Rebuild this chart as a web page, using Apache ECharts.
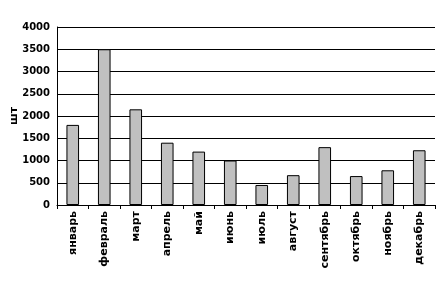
<!DOCTYPE html>
<html><head><meta charset="utf-8">
<script src="https://cdn.jsdelivr.net/npm/echarts@6/dist/echarts.min.js"></script>
<style>html,body{margin:0;padding:0;background:#fff}#c{width:440px;height:283px}</style>
</head><body><div id="c"></div>
<script>
const categories = ['январь','февраль','март','апрель','май','июнь','июль','август','сентябрь','октябрь','ноябрь','декабрь'];
const values = [1800, 3500, 2150, 1400, 1200, 1000, 450, 670, 1300, 650, 780, 1230];
const yTicks = [0, 500, 1000, 1500, 2000, 2500, 3000, 3500, 4000];
const chart = echarts.init(document.getElementById('c'), null, {renderer:'canvas'});
const font = 'DejaVu Sans, Verdana, sans-serif';
chart.setOption({
  animation: false,
  grid: {left: 57, right: 5, top: 27, bottom: 78, containLabel: false, outerBoundsMode: 'none'},
  xAxis: {
    type: 'category', data: categories,
    axisLine: {lineStyle: {color: '#000', width: 1}},
    axisTick: {show: true, length: 4, alignWithLabel: false, lineStyle: {color: '#000'}},
    axisLabel: {rotate: 90, color: '#000', fontFamily: font, fontWeight: 'bold', fontSize: 11, margin: 6, interval: 0}
  },
  yAxis: {
    type: 'value', min: yTicks[0], max: yTicks[yTicks.length-1], interval: 500,
    name: 'шт', nameLocation: 'middle', nameGap: 37, nameRotate: 90, nameMoveOverlap: false,
    nameTextStyle: {color: '#000', fontFamily: font, fontWeight: 'bold', fontSize: 11},
    axisLine: {show: true, lineStyle: {color: '#000'}},
    axisTick: {show: false},
    splitLine: {lineStyle: {color: '#000', width: 1}},
    axisLabel: {color: '#000', fontFamily: font, fontWeight: 'bold', fontSize: 10, margin: 7, formatter: v => String(v)}
  },
  series: [{
    type: 'bar', data: values, barWidth: '40%',
    itemStyle: {color: '#c0c0c0', borderColor: '#000', borderWidth: 1}
  }]
});
</script></body></html>
